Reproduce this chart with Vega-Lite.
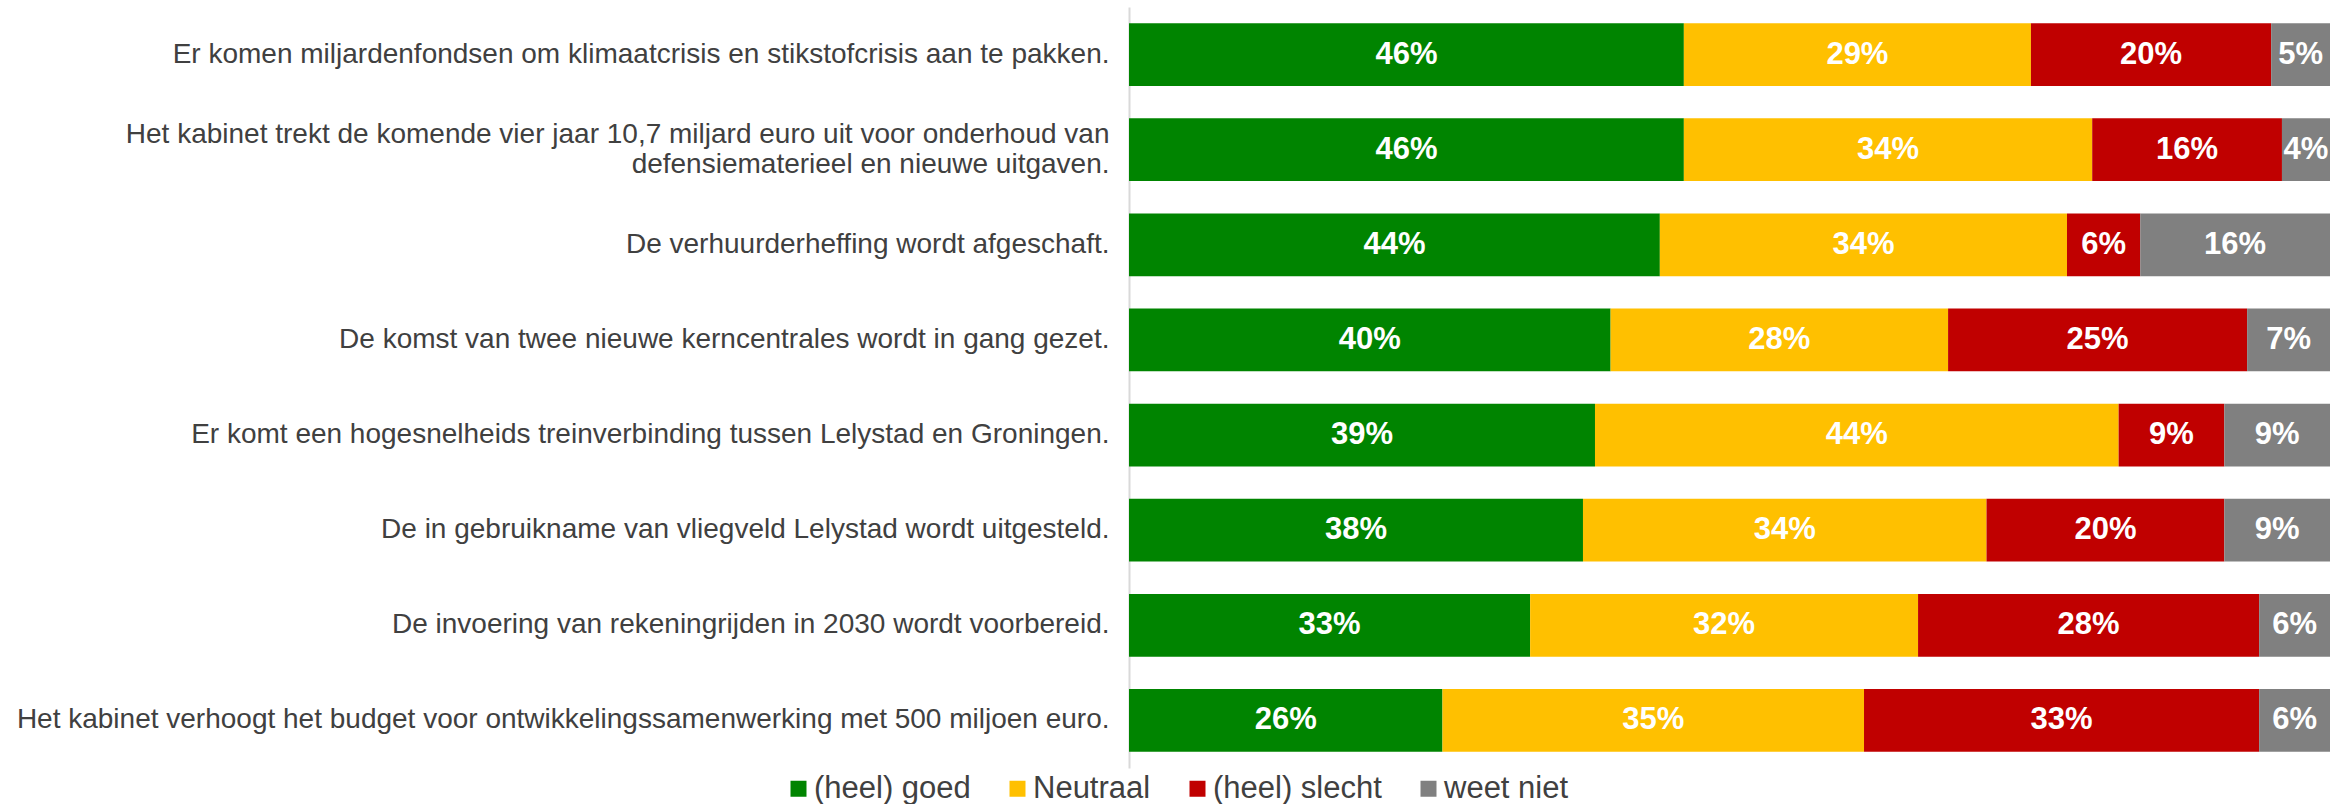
{
  "$schema": "https://vega.github.io/schema/vega-lite/v6.json",
  "width": 1201,
  "height": 761,
  "autosize": {"type": "none"},
  "padding": {"left": 1129, "top": 7, "right": 0, "bottom": 36},
  "background": "white",
  "config": {"font": "Liberation Sans", "view": {"stroke": null}},
  "data": {"values": [
    {"stelling": "Er komen miljardenfondsen om klimaatcrisis en stikstofcrisis aan te pakken.", "antwoord": "(heel) goed", "i": 1, "pct": 0.462},
    {"stelling": "Er komen miljardenfondsen om klimaatcrisis en stikstofcrisis aan te pakken.", "antwoord": "Neutraal", "i": 2, "pct": 0.289},
    {"stelling": "Er komen miljardenfondsen om klimaatcrisis en stikstofcrisis aan te pakken.", "antwoord": "(heel) slecht", "i": 3, "pct": 0.200},
    {"stelling": "Er komen miljardenfondsen om klimaatcrisis en stikstofcrisis aan te pakken.", "antwoord": "weet niet", "i": 4, "pct": 0.049},
    {"stelling": "Het kabinet trekt de komende vier jaar 10,7 miljard euro uit voor onderhoud van defensiematerieel en nieuwe uitgaven.", "antwoord": "(heel) goed", "i": 1, "pct": 0.462},
    {"stelling": "Het kabinet trekt de komende vier jaar 10,7 miljard euro uit voor onderhoud van defensiematerieel en nieuwe uitgaven.", "antwoord": "Neutraal", "i": 2, "pct": 0.340},
    {"stelling": "Het kabinet trekt de komende vier jaar 10,7 miljard euro uit voor onderhoud van defensiematerieel en nieuwe uitgaven.", "antwoord": "(heel) slecht", "i": 3, "pct": 0.158},
    {"stelling": "Het kabinet trekt de komende vier jaar 10,7 miljard euro uit voor onderhoud van defensiematerieel en nieuwe uitgaven.", "antwoord": "weet niet", "i": 4, "pct": 0.040},
    {"stelling": "De verhuurderheffing wordt afgeschaft.", "antwoord": "(heel) goed", "i": 1, "pct": 0.442},
    {"stelling": "De verhuurderheffing wordt afgeschaft.", "antwoord": "Neutraal", "i": 2, "pct": 0.339},
    {"stelling": "De verhuurderheffing wordt afgeschaft.", "antwoord": "(heel) slecht", "i": 3, "pct": 0.061},
    {"stelling": "De verhuurderheffing wordt afgeschaft.", "antwoord": "weet niet", "i": 4, "pct": 0.158},
    {"stelling": "De komst van twee nieuwe kerncentrales wordt in gang gezet.", "antwoord": "(heel) goed", "i": 1, "pct": 0.401},
    {"stelling": "De komst van twee nieuwe kerncentrales wordt in gang gezet.", "antwoord": "Neutraal", "i": 2, "pct": 0.281},
    {"stelling": "De komst van twee nieuwe kerncentrales wordt in gang gezet.", "antwoord": "(heel) slecht", "i": 3, "pct": 0.249},
    {"stelling": "De komst van twee nieuwe kerncentrales wordt in gang gezet.", "antwoord": "weet niet", "i": 4, "pct": 0.069},
    {"stelling": "Er komt een hogesnelheids treinverbinding tussen Lelystad en Groningen.", "antwoord": "(heel) goed", "i": 1, "pct": 0.388},
    {"stelling": "Er komt een hogesnelheids treinverbinding tussen Lelystad en Groningen.", "antwoord": "Neutraal", "i": 2, "pct": 0.436},
    {"stelling": "Er komt een hogesnelheids treinverbinding tussen Lelystad en Groningen.", "antwoord": "(heel) slecht", "i": 3, "pct": 0.088},
    {"stelling": "Er komt een hogesnelheids treinverbinding tussen Lelystad en Groningen.", "antwoord": "weet niet", "i": 4, "pct": 0.088},
    {"stelling": "De in gebruikname van vliegveld Lelystad wordt uitgesteld.", "antwoord": "(heel) goed", "i": 1, "pct": 0.378},
    {"stelling": "De in gebruikname van vliegveld Lelystad wordt uitgesteld.", "antwoord": "Neutraal", "i": 2, "pct": 0.336},
    {"stelling": "De in gebruikname van vliegveld Lelystad wordt uitgesteld.", "antwoord": "(heel) slecht", "i": 3, "pct": 0.198},
    {"stelling": "De in gebruikname van vliegveld Lelystad wordt uitgesteld.", "antwoord": "weet niet", "i": 4, "pct": 0.088},
    {"stelling": "De invoering van rekeningrijden in 2030 wordt voorbereid.", "antwoord": "(heel) goed", "i": 1, "pct": 0.334},
    {"stelling": "De invoering van rekeningrijden in 2030 wordt voorbereid.", "antwoord": "Neutraal", "i": 2, "pct": 0.323},
    {"stelling": "De invoering van rekeningrijden in 2030 wordt voorbereid.", "antwoord": "(heel) slecht", "i": 3, "pct": 0.284},
    {"stelling": "De invoering van rekeningrijden in 2030 wordt voorbereid.", "antwoord": "weet niet", "i": 4, "pct": 0.059},
    {"stelling": "Het kabinet verhoogt het budget voor ontwikkelingssamenwerking met 500 miljoen euro.", "antwoord": "(heel) goed", "i": 1, "pct": 0.261},
    {"stelling": "Het kabinet verhoogt het budget voor ontwikkelingssamenwerking met 500 miljoen euro.", "antwoord": "Neutraal", "i": 2, "pct": 0.351},
    {"stelling": "Het kabinet verhoogt het budget voor ontwikkelingssamenwerking met 500 miljoen euro.", "antwoord": "(heel) slecht", "i": 3, "pct": 0.329},
    {"stelling": "Het kabinet verhoogt het budget voor ontwikkelingssamenwerking met 500 miljoen euro.", "antwoord": "weet niet", "i": 4, "pct": 0.059}
  ]},
  "encoding": {
    "y": {
      "field": "stelling",
      "type": "nominal",
      "sort": null,
      "title": null,
      "scale": {"paddingInner": 0.34, "paddingOuter": 0.17},
      "axis": {
        "domainColor": "#d9d9d9",
        "domainWidth": 2,
        "ticks": false,
        "grid": false,
        "labelFontSize": 28,
        "labelColor": "#404040",
        "labelPadding": 20,
        "labelLimit": 1100,
        "labelLineHeight": 30,
        "labelOffset": {
          "condition": {"test": "datum.value == 'Het kabinet trekt de komende vier jaar 10,7 miljard euro uit voor onderhoud van defensiematerieel en nieuwe uitgaven.'", "value": -15},
          "value": 0
        },
        "labelExpr": "datum.value == 'Het kabinet trekt de komende vier jaar 10,7 miljard euro uit voor onderhoud van defensiematerieel en nieuwe uitgaven.' ? ['Het kabinet trekt de komende vier jaar 10,7 miljard euro uit voor onderhoud van', 'defensiematerieel en nieuwe uitgaven.'] : datum.label"
      }
    },
    "order": {"field": "i", "type": "quantitative"}
  },
  "layer": [
    {
      "mark": {"type": "bar"},
      "encoding": {
        "x": {"field": "pct", "type": "quantitative", "stack": "zero", "scale": {"domain": [0, 1]}, "axis": null},
        "color": {
          "field": "antwoord",
          "type": "nominal",
          "scale": {
            "domain": ["(heel) goed", "Neutraal", "(heel) slecht", "weet niet"],
            "range": ["#008400", "#FFC000", "#C00000", "#808080"]
          },
          "legend": {
            "title": null,
            "orient": "none",
            "legendX": -346,
            "legendY": 766,
            "direction": "horizontal",
            "symbolType": "square",
            "symbolSize": 256,
            "symbolStrokeWidth": 0,
            "labelFontSize": 31,
            "labelColor": "#404040",
            "labelLimit": 500,
            "columnPadding": 31,
            "labelOffset": 0
          }
        }
      }
    },
    {
      "mark": {"type": "text", "color": "white", "fontWeight": "bold", "fontSize": 31, "baseline": "middle"},
      "encoding": {
        "x": {"field": "pct", "type": "quantitative", "stack": "zero", "bandPosition": 0.5},
        "text": {"field": "pct", "type": "quantitative", "format": ".0%"}
      }
    }
  ]
}
